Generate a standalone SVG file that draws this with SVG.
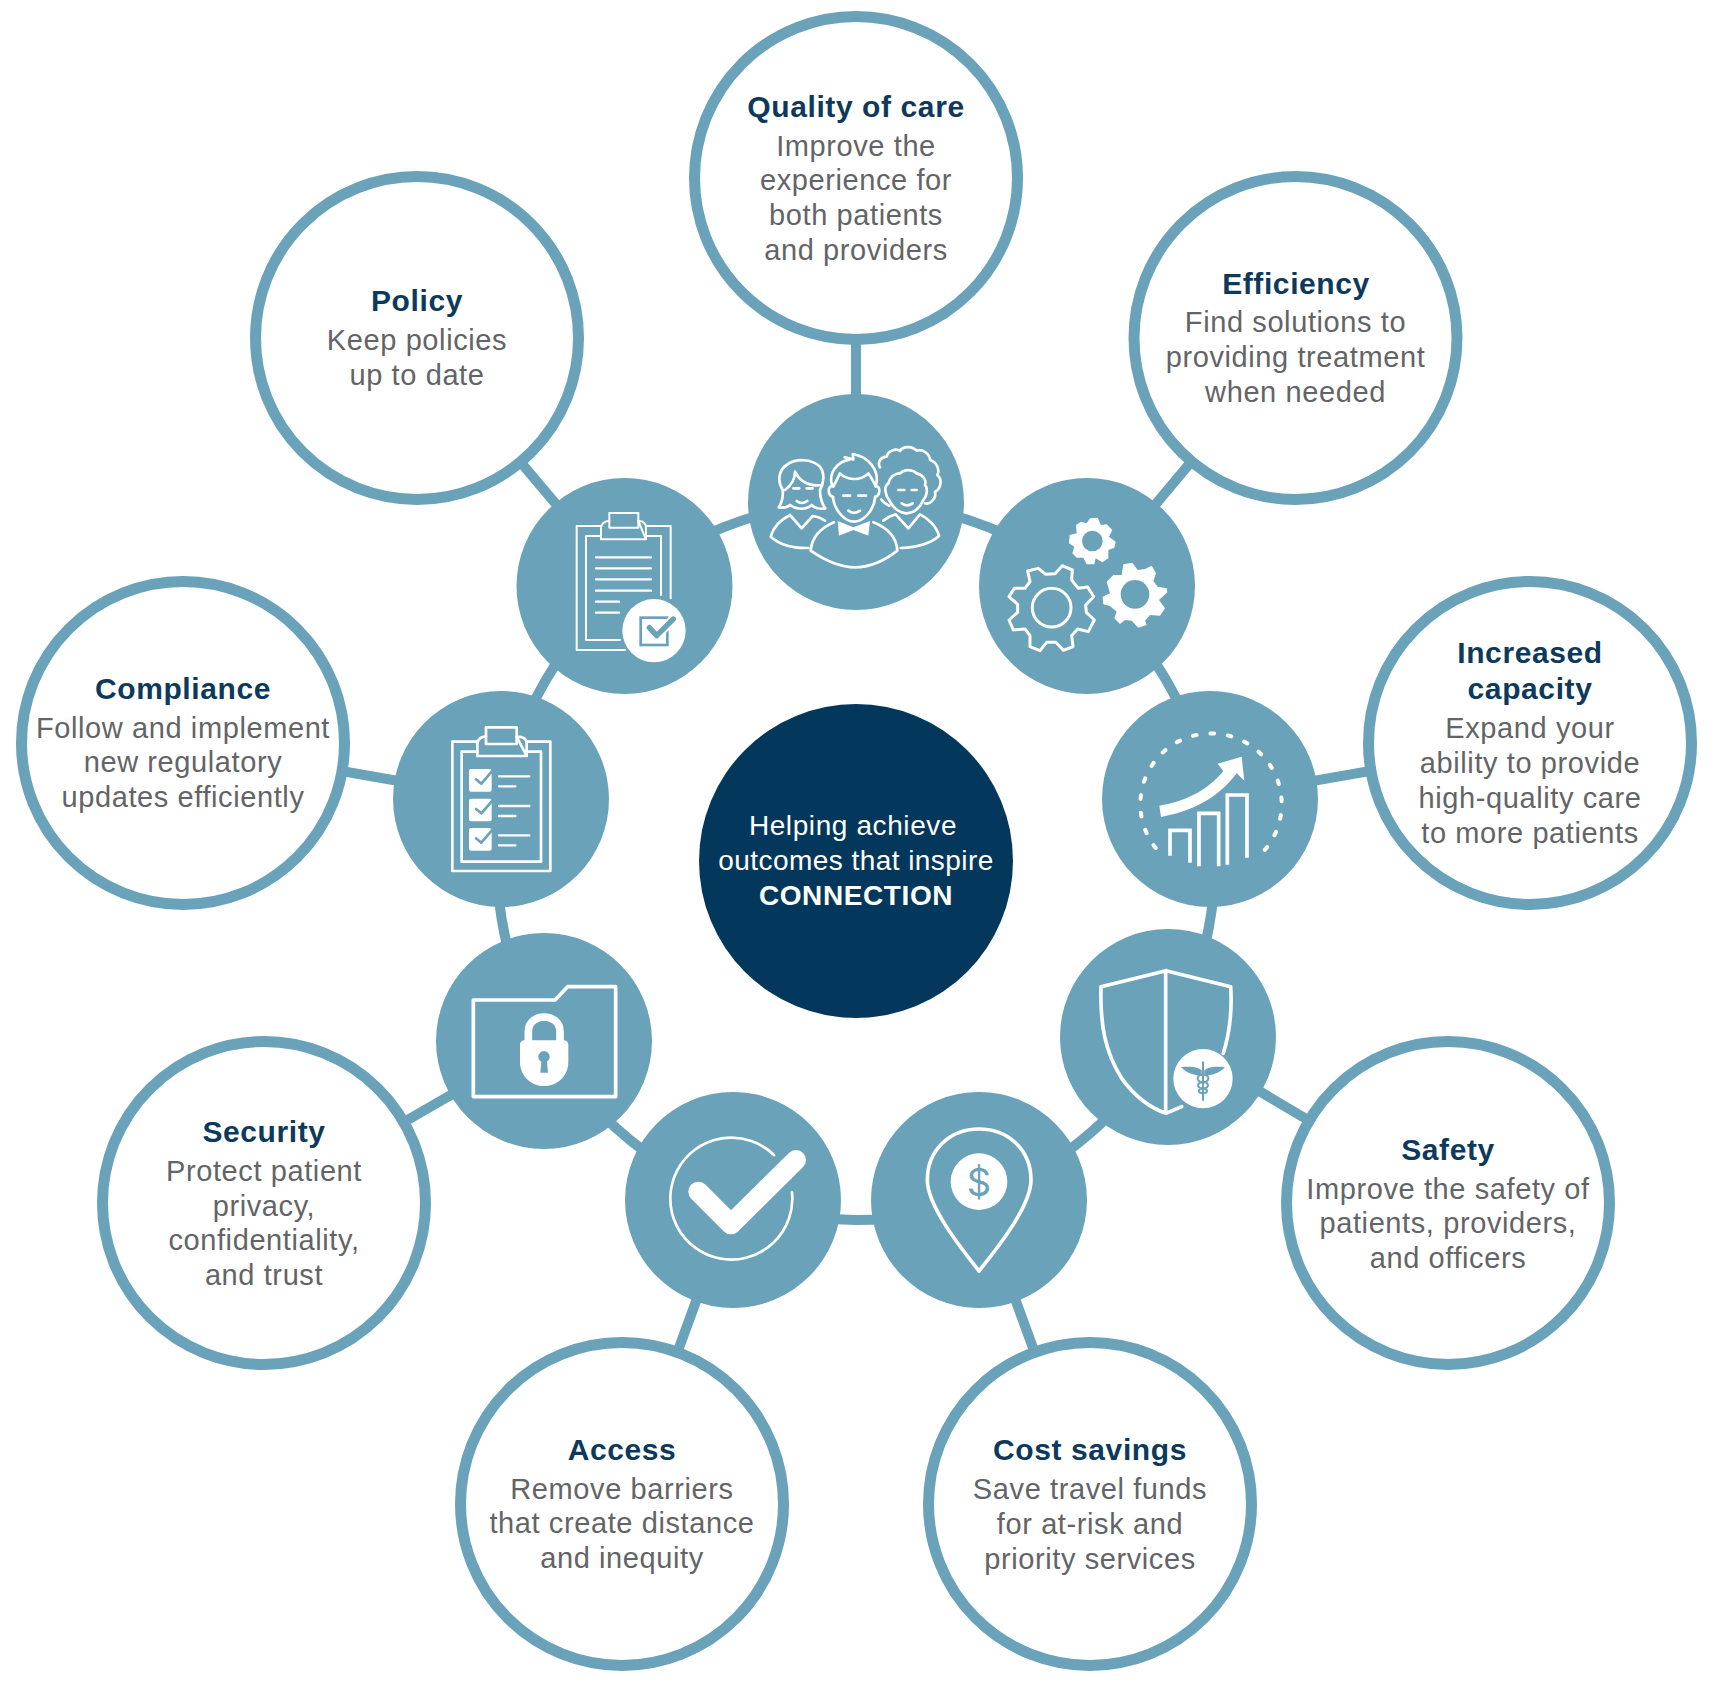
<svg xmlns="http://www.w3.org/2000/svg" width="1712" height="1683" viewBox="0 0 1712 1683">
<style>
text{font-family:"Liberation Sans",Arial,sans-serif;text-anchor:middle;letter-spacing:.6px}
.t{font-size:30px;font-weight:700;fill:#0d3a5c}
.b{font-size:29px;fill:#636467}
.c{font-size:28px;fill:#fff}
.big{fill:#fff;stroke:#6aa2ba;stroke-width:11}
.small{fill:#6aa2ba}
.ln{fill:none;stroke:#6aa2ba;stroke-width:10}
.i{fill:none;stroke:#fff;stroke-width:8;stroke-linecap:round;stroke-linejoin:round}
.w{fill:#fff;stroke:none}
.k{fill:#6aa2ba;stroke:none}
.ks{fill:none;stroke:#6aa2ba;stroke-linecap:round;stroke-linejoin:round}
</style>
<rect width="1712" height="1683" fill="#fff"/>
<g id="connectors">
<circle class="ln" cx="856" cy="861" r="359"/>
<path class="ln" d="M856 502L856 178M1087 586L1295 338M1210 799L1530 743M1168 1037L1448 1203M979 1200L1090 1504M733 1200L622 1504M544 1041L264 1203M501 799L182 743M625 586L416 338"/>
</g>
<g id="center"><circle cx="856" cy="861" r="157" fill="#03385c"/>
<text class="c" x="853" y="835">Helping achieve</text><text class="c" x="856" y="870" style="letter-spacing:.45px">outcomes that inspire</text><text class="c" x="856" y="905" style="font-weight:700">CONNECTION</text></g>

<g id="quality"><circle class="big" cx="856" cy="178" r="161.500"/><text class="t" x="856" y="117">Quality of care</text><text class="b" x="856" y="156">Improve the</text><text class="b" x="856" y="190">experience for</text><text class="b" x="856" y="225">both patients</text><text class="b" x="856" y="260">and providers</text></g>
<g id="efficiency"><circle class="big" cx="1295.500" cy="338" r="161.500"/><text class="t" x="1296" y="294">Efficiency</text><text class="b" x="1295.500" y="332">Find solutions to</text><text class="b" x="1295.500" y="367">providing treatment</text><text class="b" x="1295.500" y="402">when needed</text></g>
<g id="capacity"><circle class="big" cx="1530" cy="743" r="161.500"/><text class="t" x="1530" y="663">Increased</text><text class="t" x="1530" y="699">capacity</text><text class="b" x="1530" y="738">Expand your</text><text class="b" x="1530" y="773">ability to provide</text><text class="b" x="1530" y="808">high-quality care</text><text class="b" x="1530" y="843">to more patients</text></g>
<g id="safety"><circle class="big" cx="1448" cy="1203" r="161.500"/><text class="t" x="1448" y="1160">Safety</text><text class="b" x="1448" y="1199">Improve the safety of</text><text class="b" x="1448" y="1233">patients, providers,</text><text class="b" x="1448" y="1268">and officers</text></g>
<g id="cost"><circle class="big" cx="1090" cy="1504" r="161.500"/><text class="t" x="1090" y="1460">Cost savings</text><text class="b" x="1090" y="1499">Save travel funds</text><text class="b" x="1090" y="1534">for at-risk and</text><text class="b" x="1090" y="1569">priority services</text></g>
<g id="access"><circle class="big" cx="622" cy="1504" r="161.500"/><text class="t" x="622" y="1460">Access</text><text class="b" x="622" y="1499">Remove barriers</text><text class="b" x="622" y="1533">that create distance</text><text class="b" x="622" y="1568">and inequity</text></g>
<g id="security"><circle class="big" cx="264" cy="1203" r="161.500"/><text class="t" x="264" y="1142">Security</text><text class="b" x="264" y="1181">Protect patient</text><text class="b" x="264" y="1216">privacy,</text><text class="b" x="264" y="1250">confidentiality,</text><text class="b" x="264" y="1285">and trust</text></g>
<g id="compliance"><circle class="big" cx="183" cy="743" r="161.500"/><text class="t" x="183" y="699">Compliance</text><text class="b" x="183" y="738">Follow and implement</text><text class="b" x="183" y="772">new regulatory</text><text class="b" x="183" y="807">updates efficiently</text></g>
<g id="policy"><circle class="big" cx="417" cy="338" r="161.500"/><text class="t" x="417" y="311">Policy</text><text class="b" x="417" y="350">Keep policies</text><text class="b" x="417" y="385">up to date</text></g>

<g id="icon-people"><circle class="small" cx="856" cy="502" r="108"/>
<g transform="translate(740 390) scale(.33333)" class="i" style="stroke-width:8">
<path d="M116 352C128 335 130 320 128 300C112 275 115 240 140 225C165 205 215 205 240 230C255 250 252 280 240 300C240 325 245 340 256 355C240 358 225 355 215 345C200 360 170 360 150 345C140 355 128 354 116 352Z"/>
<path d="M135 300C155 285 165 265 165 245C180 275 205 290 245 285"/>
<path d="M160 295H178M200 295H218M170 333Q185 345 202 333"/>
<path d="M150 375C120 390 100 410 92 440C120 465 160 475 205 474M150 375L185 415L218 378C232 380 245 385 255 392"/>
<path d="M278 320C285 370 320 395 342 395C365 395 400 370 406 320M278 288C262 290 262 315 280 322M407 288C422 290 422 315 405 322M280 290C290 270 295 260 300 250C320 270 360 275 385 250C395 265 402 275 407 290"/>
<path d="M276 285C265 250 290 215 330 208L314 202L340 208L338 192C385 200 420 240 408 285"/>
<path d="M293 393L340 412L390 393L385 437L340 420L297 437Z" style="fill:#fff;stroke:none"/>
<path d="M282 397C240 415 215 445 212 482C260 515 300 532 345 532C390 532 430 515 472 482C470 445 445 415 400 397"/>
<path d="M310 317H330M355 317H378M325 362Q342 375 360 362"/>
<path d="M420 232C410 215 425 200 440 200C445 180 470 175 480 183C490 165 520 170 530 182C550 175 570 195 570 210C590 215 600 240 592 255C610 270 600 300 585 305C590 325 570 345 555 340"/>
<path d="M450 335C435 315 430 290 445 280C450 260 465 250 480 250C495 235 520 240 530 250C550 255 560 270 555 285C565 295 560 320 550 330C540 355 520 370 500 370C480 370 460 355 450 335"/>
<path d="M475 300H493M515 300H530M485 340Q500 352 518 340M424 328C430 338 438 343 448 347"/>
<path d="M430 392C445 380 460 375 467 373L505 415L540 373C565 385 590 410 597 438C570 462 530 472 482 474"/>
</g></g>

<g id="icon-gears"><circle class="small" cx="1087" cy="586" r="108"/>
<g transform="translate(975 475) scale(.33333)" class="i" style="stroke-width:9">
<path d="M190 280L212 298L240 296L262 272L292 285L290 315L310 340L338 336L356 365L332 390L334 412L358 435L340 470L308 462L290 482L294 515L265 526L243 502L215 502L195 527L165 515L165 482L150 462L115 465L102 435L128 412L128 388L102 365L118 340L150 340L165 320L158 288Z"/>
<circle cx="230" cy="398" r="58"/>
<path style="fill:#fff;stroke:none" d="M445 268L472 263L488 285L510 282L530 272L543 295L535 318L548 335L575 340L577 352L552 375L570 400L555 422L525 420L510 437L515 450L490 458L470 437L450 435L435 447L418 430L425 410L405 393L385 388L383 365L405 355L395 320L415 300L440 300Z"/>
<circle class="k" cx="480" cy="358" r="43"/>
<path style="fill:#fff;stroke:none" d="M318 140L335 145L345 130L368 128L378 150L395 148L412 165L402 185L422 200L418 218L400 225L400 250L382 262L362 250L358 268L335 268L325 248L305 248L292 235L298 215L282 205L284 180L305 175L303 150Z"/>
<circle class="k" cx="352" cy="198" r="31"/>
</g></g>

<g id="icon-chart"><circle class="small" cx="1210" cy="799" r="108"/>
<g transform="translate(1100 685) scale(.33333)" class="i" style="stroke-width:12">
<path d="M167 489A212 212 0 1 1 478 512" stroke-dasharray="11 41.500"/>
<path style="fill:#fff;stroke:none" d="M178 362C250 350 320 320 370 258L353 236L425 215L433 287L410 265C350 345 270 380 183 396Z"/>
<path style="stroke-linecap:butt;stroke-linejoin:miter;stroke-width:11" d="M210 512V436H270V533M297 544V385H356V544M382 539V330H441V518"/>
</g></g>

<g id="icon-shield"><circle class="small" cx="1168" cy="1037" r="108"/>
<g transform="translate(1055 925) scale(.33333)" class="i" style="stroke-width:11">
<path d="M333 137L138 185C135 300 150 380 200 460C240 515 290 550 333 565L380 545M333 137L527 185C532 260 525 320 505 385M332 145V560"/>
<circle class="w" cx="444" cy="461" r="89"/>
<path class="k" d="M378 427C410 423 430 428 440 436V452C425 452 398 448 378 427Z"/>
<path class="k" d="M510 427C478 423 458 428 448 436V452C463 452 490 448 510 427Z"/>
<path class="ks" style="stroke-width:6" d="M444 412V525"/>
<path class="ks" style="stroke-width:6" d="M450 450C465 452 465 472 440 472C425 475 425 490 444 490C460 492 460 505 444 505M438 450C423 452 423 472 448 472C463 475 463 490 444 490C428 492 428 505 444 505"/>
</g></g>

<g id="icon-pin"><circle class="small" cx="979" cy="1200" r="108"/>
<g transform="translate(865 1085) scale(.33333)" class="i" style="stroke-width:11">
<path d="M342 132C255 132 187 195 187 285C187 360 280 480 342 558C405 480 498 360 498 285C498 195 430 132 342 132Z"/>
<circle class="w" cx="342" cy="290" r="85"/>
</g>
<text x="979" y="1196" style="font-family:Inter,'Liberation Sans',sans-serif;font-size:38px;fill:#6aa2ba;letter-spacing:0">$</text></g>

<g id="icon-check"><circle class="small" cx="733" cy="1200" r="108"/>
<g transform="translate(620 1085) scale(.33333)" class="i" style="stroke-width:8">
<path d="M462 210A183 183 0 1 0 516 322"/>
<path style="stroke-width:60" d="M235 320L333 418L528 225"/>
</g></g>

<g id="icon-lock"><circle class="small" cx="544" cy="1041" r="108"/>
<g transform="translate(430 925) scale(.33333)" class="i" style="stroke-width:11">
<path d="M130 225H375L413 185H557V515H130Z"/>
<path style="stroke-width:23;stroke-linecap:butt" d="M295 350V320C295 290 320 276 342 276C365 276 390 290 390 320V350"/>
<path style="fill:#fff;stroke:none" d="M285 346H400Q415 346 415 360V410C415 455 380 483 342 483C305 483 270 455 270 410V360Q270 346 285 346Z"/>
<circle class="k" cx="342" cy="395" r="17"/><path class="k" d="M335 400H350L354 443H331Z"/>
</g></g>

<g id="icon-clipboard-list"><circle class="small" cx="501" cy="799" r="108"/>
<g transform="translate(385 685) scale(.33333)" class="i" style="stroke-width:8">
<path d="M277 170H202V558H496V170H425M277 200H230V530H468V200H425"/>
<path d="M277 213V175Q280 155 303 155M395 155Q425 155 425 175V213ZM277 213H425"/>
<rect x="303" y="127" width="92" height="50"/>
<rect class="w" x="252" y="252" width="68" height="68" rx="6"/><path class="ks" style="stroke-width:8" d="M273 283L289 296L322 258"/><path style="stroke-width:7" d="M342 274H433M342 304H391"/>
<rect class="w" x="252" y="341" width="68" height="68" rx="6"/><path class="ks" style="stroke-width:8" d="M273 372L289 385L322 347"/><path style="stroke-width:7" d="M342 363H433M342 393H391"/>
<rect class="w" x="252" y="429" width="68" height="68" rx="6"/><path class="ks" style="stroke-width:8" d="M273 460L289 473L322 435"/><path style="stroke-width:7" d="M342 451H433M342 481H391"/>
</g></g>

<g id="icon-clipboard-policy"><circle class="small" cx="624.500" cy="586" r="108"/>
<g transform="translate(510 475) scale(.33333)" class="i" style="stroke-width:6">
<path d="M273 153H200V525H345M482 370V153H408M273 183H228V495H330M453 360V183H408"/>
<path d="M273 193V158Q276 138 298 138M385 138Q408 138 408 158V193ZM273 193H408"/>
<rect x="298" y="114" width="87" height="44"/>
<path style="stroke-width:7" d="M258 247H423M258 280H423M258 313H423M258 347H423M258 380H327M258 413H327"/>
<circle class="w" cx="432" cy="467" r="95"/>
<rect x="392" y="428" width="80" height="82" style="stroke:#6aa2ba;stroke-width:8;stroke-linejoin:miter"/>
<path style="stroke-width:28" d="M418 458L440 482L490 432"/>
<path class="ks" style="stroke-width:16" d="M418 458L440 482L490 432"/>
</g></g>
</svg>
